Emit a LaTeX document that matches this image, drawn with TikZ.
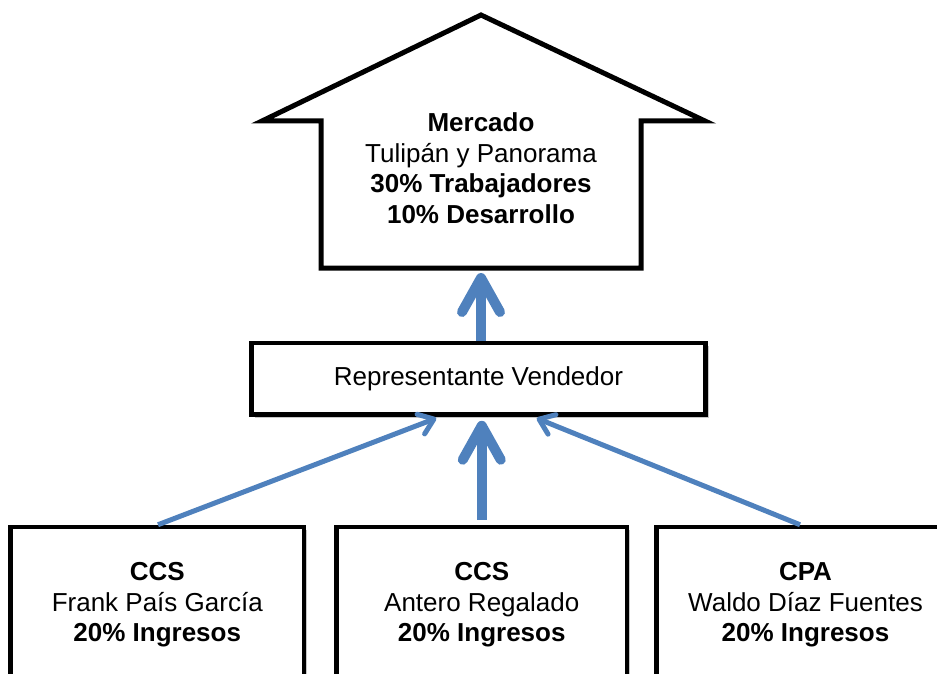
\documentclass[tikz,border=0pt]{standalone}
\usepackage{fontspec}
\setmainfont{Liberation Sans}
\usetikzlibrary{arrows.meta,shadows,calc}
\definecolor{arrowblue}{RGB}{79,129,189}
\begin{document}
\begin{tikzpicture}[x=1pt,y=-1pt,
  txt/.style={align=center, font=\fontsize{26}{30.5}\selectfont, inner sep=0pt},
  box/.style={txt, draw=black, line width=4.5pt, fill=white,
    drop shadow={shadow xshift=3pt, shadow yshift=-3pt, fill=black, opacity=0.22}},
  bigarrow/.style={draw=arrowblue, line width=10pt, -{Straight Barb[length=34pt,width=38pt,round]}},
  thinarrow/.style={draw=arrowblue, line width=5pt, -{Straight Barb[length=14pt,width=21pt,round]}},
  house/.style={draw=black, line width=5pt, line join=miter, fill=white}]
\useasboundingbox (0,0) rectangle (937,674);
\clip (0,0) rectangle (937,674);
% house (Mercado)
\coordinate (hbl) at (321,268);
\coordinate (hbr) at (641,268);
\coordinate (hel) at (262,121);
\coordinate (her) at (705,121);
\coordinate (apex) at (481,15);
\coordinate (hb) at (481,270.5);
\draw[house] (hbl) -- (hbl |- hel) -- (hel) -- (apex) -- (her) -- (hbr |- her) -- (hbr) -- cycle;
\node[txt] (mercado) at (481,168) {\textbf{Mercado}\\Tulipán y Panorama\\\textbf{30\% Trabajadores}\\\textbf{10\% Desarrollo}};
% representante
\node[box, minimum width=454pt, minimum height=71.5pt] (rep) at (478.5,378.75) {Representante Vendedor};
% bottom boxes
\node[box, minimum width=293.5pt, minimum height=156pt] (ccs1) at (157.25,605) {\textbf{CCS}\\Frank País García\\\textbf{20\% Ingresos}};
\node[box, minimum width=290.5pt, minimum height=156pt] (ccs2) at (481.75,605) {\textbf{CCS}\\Antero Regalado\\\textbf{20\% Ingresos}};
\node[box, minimum width=298pt, minimum height=156pt] (cpa) at (805.5,605) {\textbf{CPA}\\Waldo Díaz Fuentes\\\textbf{20\% Ingresos}};
% connectors
\draw[bigarrow, shorten >=2.5pt] (rep.north -| hb) -- (hb);
\draw[bigarrow, shorten <=5pt, shorten >=4pt] (ccs2.north) -- (ccs2.north |- rep.south);
\draw[thinarrow, shorten >=4pt] ([xshift=0.75pt]ccs1.north) -- ([xshift=-38.5pt]rep.south);
\draw[thinarrow, shorten >=4pt] ([xshift=-5.5pt]cpa.north) -- ([xshift=54.5pt]rep.south);
\end{tikzpicture}
\end{document}
